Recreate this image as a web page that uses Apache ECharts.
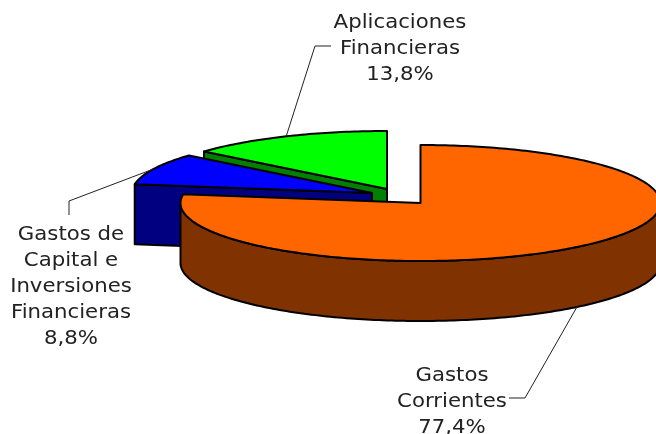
<!DOCTYPE html>
<html>
<head>
<meta charset="utf-8">
<style>
  html, body { margin: 0; padding: 0; background: #fff; }
  #chart { width: 656px; height: 434px; }
</style>
<script src="https://cdn.jsdelivr.net/npm/echarts@6/dist/echarts.min.js"></script>
</head>
<body>
<div id="chart"></div>
<script>
// datos del grafico
const sliceNames = ['Gastos\nCorrientes', 'Gastos de\nCapital e\nInversiones\nFinancieras', 'Aplicaciones\nFinancieras'];
const sliceValues = [77.4, 8.8, 13.8];

// colores y posiciones de cada porcion (tarta 3D girada)
const topColors = ['#ff6600', '#0000ff', '#00ff00'];
const sideColors = ['#803300', '#000080', '#008000'];
const centers = [[420.5, 203], [372, 193], [387, 189]];
const labelPos = [[452, 401.5], [71, 287], [400, 49]];
const elbows = [[[525, 398], [509, 398]], [[69, 201], [69, 215]], [[315, 46], [331, 46]]];
const RX = 240, RY = 58, DEPTH = 60;

const total = sliceValues.reduce((a, b) => a + b, 0);

function pt(c, deg, dy) {
  const a = deg * Math.PI / 180;
  return [c[0] + RX * Math.sin(a), c[1] - RY * Math.cos(a) + (dy || 0)];
}

function arc(c, from, to, dy) {
  const pts = [];
  const n = Math.max(2, Math.ceil(Math.abs(to - from)));
  for (let i = 0; i <= n; i++) pts.push(pt(c, from + (to - from) * i / n, dy));
  return pts;
}

function renderSlice(params, api) {
  const i = params.dataIndex;
  const c = centers[i];
  let before = 0;
  for (let k = 0; k < i; k++) before += sliceValues[k];
  const start = before / total * 360;
  const end = (before + api.value(0)) / total * 360;
  const mid = (start + end) / 2;
  const line = { stroke: '#000', lineWidth: 2, lineJoin: 'round' };
  const base = i === 0 ? 60 : (i === 1 ? 30 : 0);
  const children = [];

  // pared lateral
  if (i === 0) {
    const wallFrom = Math.max(start, 90);
    const wallTo = Math.min(end, 270);
    children.push({
      type: 'polygon',
      z2: base,
      shape: { points: arc(c, wallFrom, wallTo).concat(arc(c, wallTo, wallFrom, DEPTH)) },
      style: Object.assign({ fill: sideColors[i] }, line)
    });
  } else {
    const edge = pt(c, start);
    children.push({
      type: 'polygon',
      z2: base,
      shape: { points: [edge, c, [c[0], c[1] + DEPTH], [edge[0], edge[1] + DEPTH]] },
      style: Object.assign({ fill: sideColors[i] }, line)
    });
  }

  // cara superior
  children.push({
    type: 'polygon',
    z2: base + 1,
    shape: { points: [c].concat(arc(c, start, end)) },
    style: Object.assign({ fill: topColors[i] }, line)
  });

  // linea guia, sale del centro del arco de la porcion
  const anchor = pt(c, mid, i === 0 ? DEPTH : 0);
  children.push({
    type: 'polyline',
    z2: 100,
    shape: { points: [anchor].concat(elbows[i]) },
    style: { stroke: '#222', lineWidth: 1, fill: null }
  });

  // etiqueta
  children.push({
    type: 'text',
    z2: 100,
    x: labelPos[i][0],
    y: labelPos[i][1],
    scaleX: 1.09,
    style: {
      text: sliceNames[i] + '\n' + api.value(0).toFixed(1).replace('.', ',') + '%',
      font: '19.5px "DejaVu Sans"',
      lineHeight: 26,
      fill: '#222',
      textAlign: 'center',
      textVerticalAlign: 'middle'
    }
  });

  return { type: 'group', children: children };
}

const chart = echarts.init(document.getElementById('chart'));
chart.setOption({
  backgroundColor: '#fff',
  animation: false,
  series: [{
    type: 'custom',
    coordinateSystem: 'none',
    clip: false,
    silent: true,
    renderItem: renderSlice,
    data: sliceValues
  }]
});
</script>
</body>
</html>
